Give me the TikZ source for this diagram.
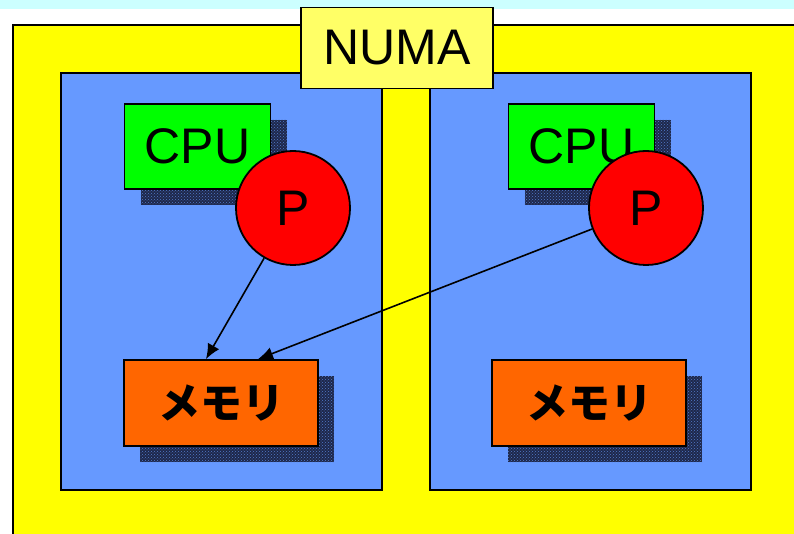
\documentclass[tikz,border=0pt]{standalone}
\usepackage{fontspec}
\setmainfont{Liberation Sans}
\newfontfamily\jpfont{Noto Sans CJK JP}
\usepackage{tikz}
\usetikzlibrary{positioning, arrows.meta, shadows, patterns}

\definecolor{topcyan}{HTML}{CCFFFF}
\definecolor{numayellow}{HTML}{FFFF00}
\definecolor{tagyellow}{HTML}{FFFF66}
\definecolor{panelblue}{HTML}{6699FF}
\definecolor{cpugreen}{HTML}{00FF00}
\definecolor{memorange}{HTML}{FF6600}
\definecolor{shadowblue}{RGB}{30,40,75}

\newcommand{\numafont}{\fontsize{50}{56}\selectfont}
\newcommand{\memfont}{\jpfont\bfseries\fontsize{42}{48}\selectfont}

\begin{document}
\begin{tikzpicture}[x=1pt, y=-1pt,
    box/.style={draw, line width=1.8pt, inner sep=0pt},
    shade/.style={drop shadow={shadow xshift=16pt, shadow yshift=-16pt, fill=shadowblue, opacity=1,
        postaction={pattern=crosshatch dots, pattern color=panelblue!80!black}}},
    cpubox/.style={box, shade, fill=cpugreen, minimum width=146pt, minimum height=85pt, font=\numafont},
    membox/.style={box, shade, fill=memorange, minimum width=194pt, minimum height=86pt, font=\memfont},
    proc/.style={box, circle, fill=red, minimum size=114pt, font=\numafont},
    conn/.style={-{Latex[length=15pt, width=13pt]}, line width=1.6pt}]
    \useasboundingbox (0,0) rectangle (794,534);
    \fill[topcyan] (0,0) rectangle (794,9);

    \node[box, line width=2pt, fill=numayellow, minimum width=800pt, minimum height=530pt, anchor=north west] (frame) at (12,24) {};
    \foreach \s/\x in {l/60, r/429} {
        \node[box, fill=panelblue, minimum width=321pt, minimum height=417pt, anchor=north west] (panel\s) at (\x,72) {};
    }
    \node[box, fill=tagyellow, minimum width=192pt, minimum height=81pt, font=\numafont] (numa) at (397,48) {NUMA};

    % CPU, processor and memory of each node
    \foreach \s/\c/\p/\m in {l/197.5/293/221, r/581.5/646/589} {
        \node[cpubox] (cpu\s) at (\c,146.5) {CPU};
        \node[proc] (p\s) at (\p,208) {P};
        \node[membox] (mem\s) at (\m,403) {メモリ};
    }

    \draw[conn] (pl) -- ([xshift=-15pt]meml.north);
    \draw[conn] (pr) -- ([xshift=37pt]meml.north);
\end{tikzpicture}
\end{document}
